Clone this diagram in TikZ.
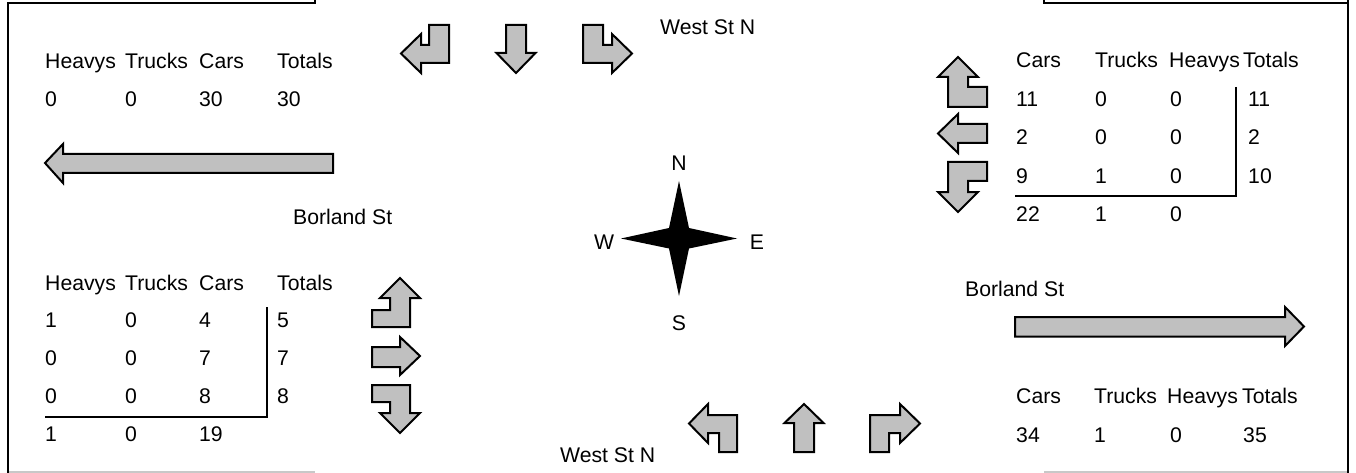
\documentclass[tikz,border=0pt]{standalone}
\usepackage{fontspec}
\setmainfont{Liberation Sans}
\definecolor{arrgray}{HTML}{C0C0C0}
\definecolor{framegray}{HTML}{C8C8C8}
\tikzset{
  lbl/.style={anchor=base west, inner sep=0pt, font=\fontsize{21.2}{24}\selectfont},
  clbl/.style={anchor=base, inner sep=0pt, font=\fontsize{21.2}{24}\selectfont},
  arr/.style={draw=black, line width=2pt, fill=arrgray, line join=miter},
  rulex/.style={draw=black, line width=1.8pt},
  frameline/.style={draw=black, line width=2.2pt},
  framelow/.style={draw=framegray, line width=1.8pt},
}
\begin{document}
\begin{tikzpicture}[x=1pt,y=-1pt]
\useasboundingbox (0,0) rectangle (1356,473);
% frame
\draw[frameline] (8,473) -- (8,3) -- (315,3) -- (315,0);
\draw[frameline] (1044,0) -- (1044,3) -- (1348,3);
\draw[frameline] (1348,0) -- (1348,473);
\draw[framelow] (9,472) -- (315,472);
\draw[framelow] (1044,472) -- (1347,472);

% top-left table
\foreach \t/\x [count=\i] in {Heavys/45,Trucks/125,Cars/199,Totals/277}
  \node[lbl] (tlh\i) at (\x,69) {\t};
\foreach \t/\x [count=\i] in {0/45,0/125,30/199,30/277}
  \node[lbl] (tld\i) at (\x,107) {\t};

% big left arrow
\draw[arr] (45,163) -- (63,144) -- (63,154) -- (333,154) -- (333,173) -- (63,173) -- (63,183) -- cycle;
\node[lbl] (borlandW) at (293,224) {Borland St};

% bottom-left table
\foreach \t/\x [count=\i] in {Heavys/45,Trucks/125,Cars/199,Totals/277}
  \node[lbl] (blh\i) at (\x,290) {\t};
\foreach \a/\b/\c/\d/\y [count=\r] in {1/0/4/5/327,0/0/7/7/365,0/0/8/8/403}{
  \node[lbl] (bl\r a) at (45,\y) {\a};
  \node[lbl] (bl\r b) at (125,\y) {\b};
  \node[lbl] (bl\r c) at (199,\y) {\c};
  \node[lbl] (bl\r d) at (277,\y) {\d};
}
\node[lbl] (blt1) at (45,441) {1};
\node[lbl] (blt2) at (125,441) {0};
\node[lbl] (blt3) at (199,441) {19};
\draw[rulex] (267,307) -- (267,417) -- (45,417);

% west approach arrows
\draw[arr] (400,278) -- (420,298) -- (410,298) -- (410,327) -- (372,327) -- (372,310) -- (390,310) -- (390,298) -- (380,298) -- cycle;
\draw[arr] (372,347) -- (400,347) -- (400,337) -- (420,356) -- (400,375) -- (400,367) -- (372,367) -- cycle;
\draw[arr] (372,385) -- (410,385) -- (410,413) -- (420,413) -- (400,433) -- (380,413) -- (390,413) -- (390,402) -- (372,402) -- cycle;

% north approach arrows
\draw[arr] (429,25) -- (449,25) -- (449,63) -- (421,63) -- (421,73) -- (401,53.5) -- (421,34) -- (421,45) -- (429,45) -- cycle;
\draw[arr] (506,25) -- (526,25) -- (526,53) -- (535.5,53) -- (516,73) -- (496.5,53) -- (506,53) -- cycle;
\draw[arr] (583,25) -- (603,25) -- (603,45) -- (612,45) -- (612,34) -- (632,53.5) -- (612,73) -- (612,63) -- (583,63) -- cycle;
\node[lbl] (westN1) at (660,35) {West St N};

% south approach arrows
\draw[arr] (689,423.5) -- (708,404) -- (708,415) -- (737,415) -- (737,452) -- (719,452) -- (719,433) -- (708,433) -- (708,443) -- cycle;
\draw[arr] (804,404) -- (823.5,423) -- (814,423) -- (814,452) -- (794,452) -- (794,423) -- (784.5,423) -- cycle;
\draw[arr] (870,452) -- (870,415) -- (900,415) -- (900,404) -- (920,423.5) -- (900,443) -- (900,433) -- (889,433) -- (889,452) -- cycle;
\node[lbl] (westN2) at (560,462) {West St N};

% compass
\fill[black] (679,181) -- (689,228) -- (737,238.5) -- (689,248.5) -- (679,296) -- (669,248.5) -- (621,238.5) -- (669,228) -- cycle;
\node[clbl] (cN) at (679,170.5) {N};
\node[clbl] (cS) at (679,330) {S};
\node[clbl] (cW) at (604,249) {W};
\node[clbl] (cE) at (757,249) {E};

% east approach arrows
\draw[arr] (958,57) -- (978,77) -- (968,77) -- (968,87) -- (987,87) -- (987,107) -- (948,107) -- (948,77) -- (938,77) -- cycle;
\draw[arr] (938,133.5) -- (958,114) -- (958,124) -- (987,124) -- (987,143) -- (958,143) -- (958,153) -- cycle;
\draw[arr] (948,162) -- (987,162) -- (987,181) -- (968,181) -- (968,192) -- (978,192) -- (958,212) -- (938,192) -- (948,192) -- cycle;

% top-right table
\foreach \t/\x [count=\i] in {Cars/1016,Trucks/1095,Heavys/1169,Totals/1243}
  \node[lbl] (trh\i) at (\x,68) {\t};
\foreach \a/\b/\c/\d/\y [count=\r] in {11/0/0/11/107,2/0/0/2/145,9/1/0/10/183}{
  \node[lbl] (tr\r a) at (1016,\y) {\a};
  \node[lbl] (tr\r b) at (1095,\y) {\b};
  \node[lbl] (tr\r c) at (1170,\y) {\c};
  \node[lbl] (tr\r d) at (1248,\y) {\d};
}
\node[lbl] (trt1) at (1016,221) {22};
\node[lbl] (trt2) at (1095,221) {1};
\node[lbl] (trt3) at (1170,221) {0};
\draw[rulex] (1236,87) -- (1236,196) -- (1015,196);

% big right arrow
\node[lbl] (borlandE) at (965,296) {Borland St};
\draw[arr] (1015,317) -- (1285,317) -- (1285,307) -- (1304,326.5) -- (1285,346) -- (1285,336.5) -- (1015,336.5) -- cycle;

% bottom-right table
\foreach \t/\x [count=\i] in {Cars/1016,Trucks/1094,Heavys/1167,Totals/1242}
  \node[lbl] (brh\i) at (\x,403) {\t};
\node[lbl] (brd1) at (1016,442) {34};
\node[lbl] (brd2) at (1094,442) {1};
\node[lbl] (brd3) at (1170,442) {0};
\node[lbl] (brd4) at (1243,442) {35};
\end{tikzpicture}
\end{document}
